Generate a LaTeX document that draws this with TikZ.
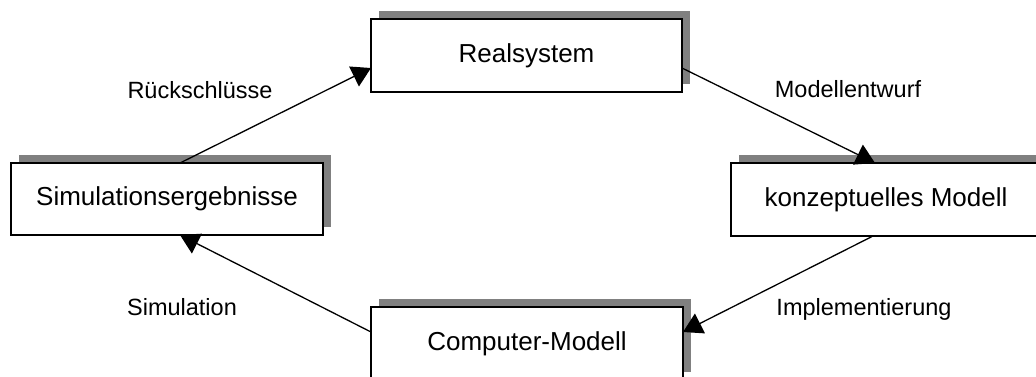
\documentclass[tikz,border=0pt]{standalone}
\usepackage{fontspec}
\setmainfont{Liberation Sans}
\usetikzlibrary{arrows.meta,shadows}
\begin{document}
\begin{tikzpicture}[x=1pt,y=-1pt,
  box/.style={draw=black, line width=1.8pt, fill=white, outer sep=0pt, inner sep=0pt,
    minimum height=73pt, text height=18pt, text depth=5pt,
    font=\fontsize{26}{30}\selectfont,
    drop shadow={shadow xshift=8pt, shadow yshift=8pt, fill=black!50, opacity=1, draw=none}},
  conn/.style={line width=1.3pt, -{Triangle[length=19pt,width=22pt]}},
  lab/.style={anchor=base, inner sep=0pt, font=\fontsize{23.5}{28}\selectfont}]
\useasboundingbox (0,0) rectangle (1036,376);
\clip (0,0) rectangle (1036,376);

\node[box, minimum width=311pt] (real) at (526.5,55.5) {Realsystem};
\node[box, minimum width=312pt, minimum height=72pt] (sim) at (167,199) {Simulationsergebnisse};
\node[box, minimum width=310pt] (konz) at (886,199.5) {konzeptuelles Modell};
\node[box, minimum width=312pt] (comp) at (527,343.5) {Computer-Modell};

\draw[conn] ([xshift=13pt]sim.north) -- ([yshift=-12.5pt]real.west);
\draw[conn] ([yshift=-12.5pt]real.east) -- ([xshift=-11pt]konz.north);
\draw[conn] ([xshift=-13pt]konz.south) -- ([yshift=11.5pt]comp.east);
\draw[conn] ([yshift=11.5pt]comp.west) -- ([xshift=13pt]sim.south);

\node[lab] (l1) at (200,98) {Rückschlüsse};
\node[lab] (l2) at (848,97) {Modellentwurf};
\node[lab] (l3) at (182,315) {Simulation};
\node[lab] (l4) at (864,315) {Implementierung};
\end{tikzpicture}
\end{document}
